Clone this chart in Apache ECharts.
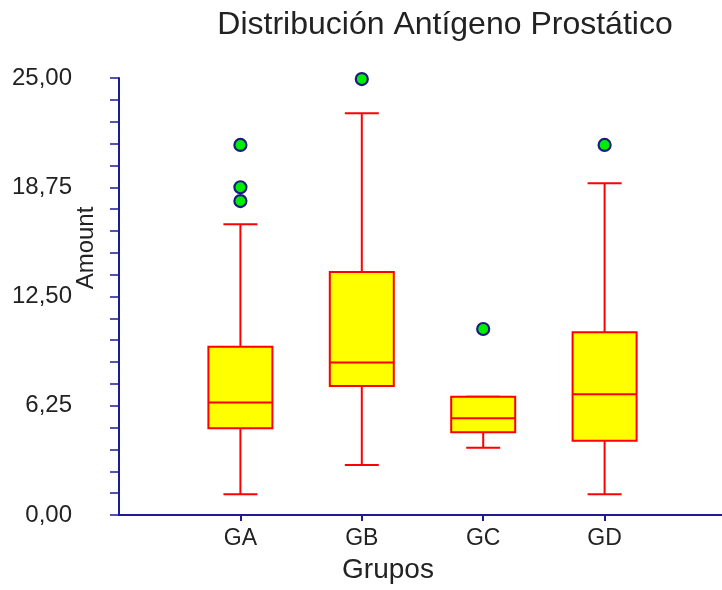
<!DOCTYPE html>
<html>
<head>
<meta charset="utf-8">
<script src="https://cdn.jsdelivr.net/npm/echarts@6/dist/echarts.min.js"></script>
<style>
  html, body { margin: 0; padding: 0; background: #ffffff; }
  #chart { width: 722px; height: 590px; }
</style>
</head>
<body>
<div id="chart"></div>
<script>
// Group names and five-number summaries of PSA per group
const categories = ['GA', 'GB', 'GC', 'GD'];
const mins    = [1.18, 2.86, 3.85, 1.18];
const q1s     = [4.96, 7.38, 4.73, 4.25];
const medians = [6.43, 8.73, 5.53, 6.91];
const q3s     = [9.63, 13.90, 6.77, 10.45];
const maxs    = [16.63, 22.98, 6.77, 18.98];

// Outliers: group index and value
const outlierGroup = [0, 0, 0, 1, 2, 3];
const outlierValue = [21.17, 18.75, 17.96, 24.94, 10.64, 21.17];

const yTicks = [0, 6.25, 12.5, 18.75, 25];

const axisColor = '#1c1c96';
const boxLine = '#ff0000';
const boxFill = '#ffff00';
const font = 'Liberation Sans, Arial, sans-serif';

// One empty slot at each end of the category axis
const axisCats = [''].concat(categories, ['']);

const boxData = categories.map((c, i) => [i + 1, mins[i], q1s[i], medians[i], q3s[i], maxs[i]]);
const outlierData = outlierGroup.map((g, i) => [g + 1, outlierValue[i]]);

const BOX_W = 64;
const CAP_W = 34;

function renderBox(params, api) {
  const x = api.value(0);
  const pMin = api.coord([x, api.value(1)]);
  const pQ1 = api.coord([x, api.value(2)]);
  const pMed = api.coord([x, api.value(3)]);
  const pQ3 = api.coord([x, api.value(4)]);
  const pMax = api.coord([x, api.value(5)]);
  const cx = pMed[0];
  const ls = { stroke: boxLine, lineWidth: 2 };
  return {
    type: 'group',
    children: [
      { type: 'line', shape: { x1: cx, y1: pQ3[1], x2: cx, y2: pMax[1] }, style: ls },
      { type: 'line', shape: { x1: cx, y1: pQ1[1], x2: cx, y2: pMin[1] }, style: ls },
      { type: 'line', shape: { x1: cx - CAP_W / 2, y1: pMax[1], x2: cx + CAP_W / 2, y2: pMax[1] }, style: ls },
      { type: 'line', shape: { x1: cx - CAP_W / 2, y1: pMin[1], x2: cx + CAP_W / 2, y2: pMin[1] }, style: ls },
      { type: 'rect', shape: { x: cx - BOX_W / 2, y: pQ3[1], width: BOX_W, height: pQ1[1] - pQ3[1] },
        style: { fill: boxFill, stroke: boxLine, lineWidth: 2 } },
      { type: 'line', shape: { x1: cx - BOX_W / 2, y1: pMed[1], x2: cx + BOX_W / 2, y2: pMed[1] }, style: ls }
    ]
  };
}

const chart = echarts.init(document.getElementById('chart'), null, { renderer: 'canvas' });

chart.setOption({
  backgroundColor: '#ffffff',
  animation: false,
  grid: { left: 119, top: 78, width: 607, height: 437, containLabel: false, outerBoundsMode: 'none' },
  xAxis: {
    type: 'category',
    data: axisCats,
    boundaryGap: false,
    axisLine: { show: true, lineStyle: { color: axisColor, width: 2 } },
    axisTick: {
      show: true, length: 6,
      interval: (idx) => idx > 0 && idx < axisCats.length - 1,
      lineStyle: { color: axisColor, width: 2 }
    },
    axisLabel: { color: '#222222', fontFamily: font, fontSize: 23, margin: 12,
      interval: 0 },
    splitLine: { show: false }
  },
  yAxis: {
    type: 'value',
    min: 0, max: 25, interval: 6.25,
    axisLine: { show: true, lineStyle: { color: axisColor, width: 2 } },
    axisTick: { show: true, length: 9, lineStyle: { color: axisColor, width: 1.5 } },
    minorTick: { show: true, splitNumber: 5, length: 9, lineStyle: { color: axisColor, width: 1.5 } },
    axisLabel: {
      color: '#222222', fontFamily: font, fontSize: 24, margin: 47,
      formatter: (v) => {
        const t = yTicks.find(k => Math.abs(k - v) < 1e-6);
        return t === undefined ? '' : t.toFixed(2).replace('.', ',');
      }
    },
    splitLine: { show: false }
  },
  series: [
    {
      type: 'custom',
      renderItem: renderBox,
      data: boxData,
      encode: { x: 0, y: [1, 2, 3, 4, 5] },
      z: 2
    },
    {
      type: 'scatter',
      data: outlierData,
      symbol: 'circle',
      symbolSize: 12,
      clip: false,
      itemStyle: { color: '#00ee00', borderColor: '#1a1a80', borderWidth: 2.2, opacity: 1 },
      z: 3
    }
  ],
  graphic: [
    {
      type: 'text', x: 445, y: 25,
      style: { text: 'Distribución Antígeno Prostático', fill: '#222222', font: '32px ' + font,
        textAlign: 'center', textVerticalAlign: 'middle' }
    },
    {
      type: 'text', x: 86, y: 248, rotation: Math.PI / 2,
      style: { text: 'Amount', fill: '#222222', font: '24px ' + font,
        textAlign: 'center', textVerticalAlign: 'middle' }
    },
    {
      type: 'text', x: 388, y: 570,
      style: { text: 'Grupos', fill: '#222222', font: '28px ' + font,
        textAlign: 'center', textVerticalAlign: 'middle' }
    }
  ]
});
</script>
</body>
</html>
